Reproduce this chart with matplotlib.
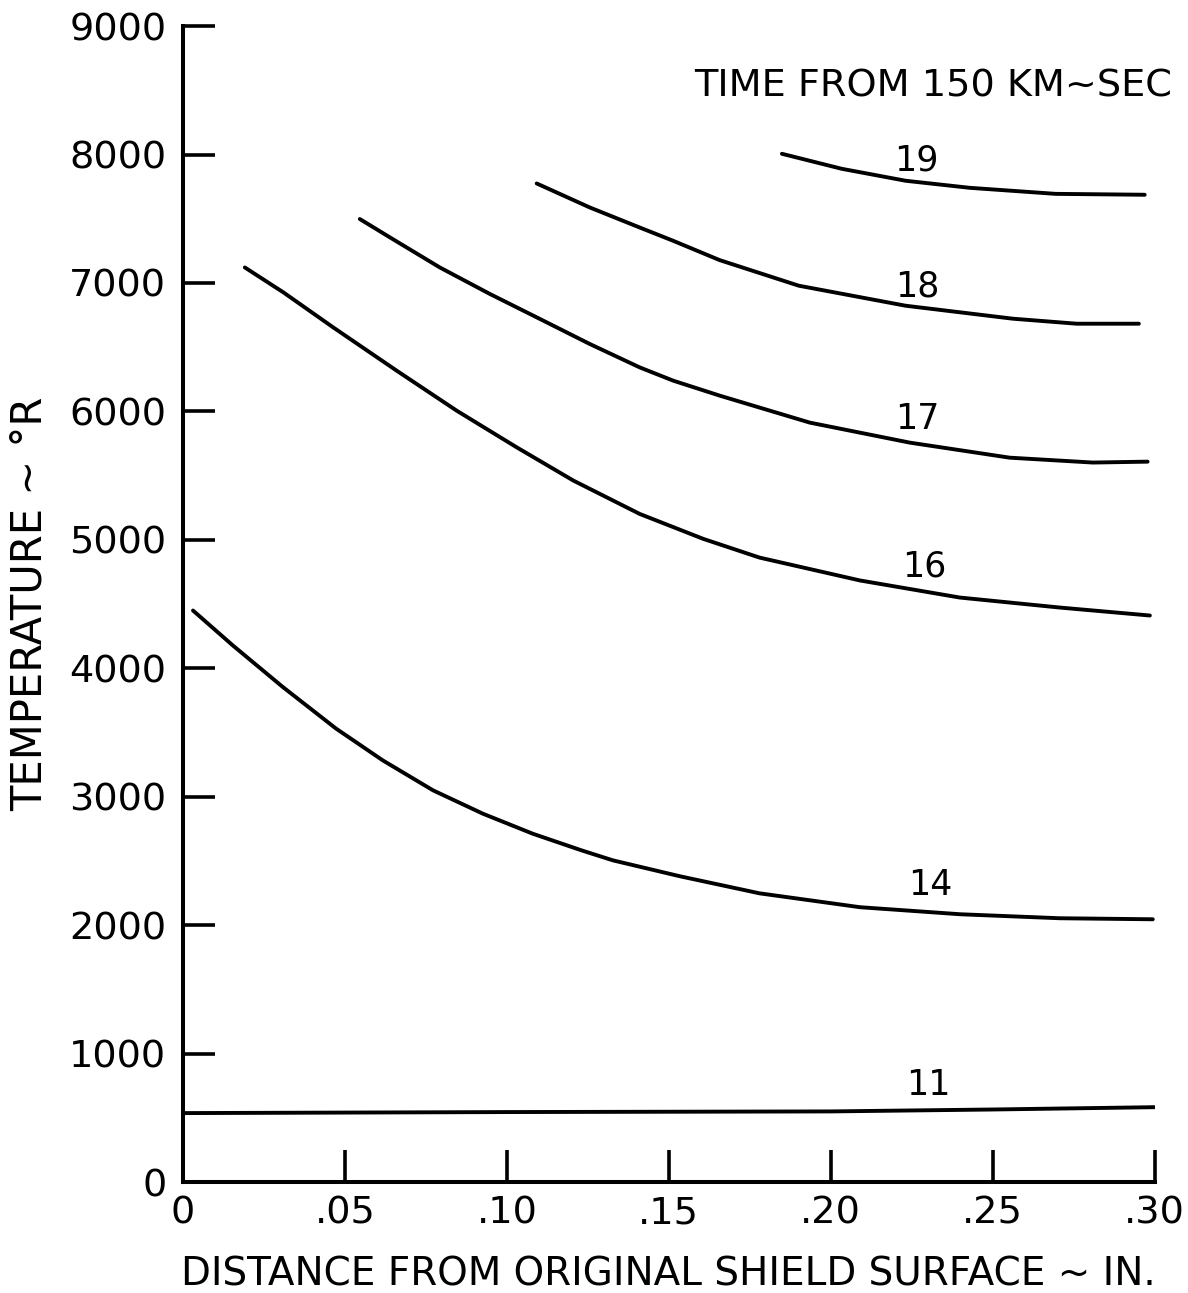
import numpy as np
import matplotlib.pyplot as plt

x11 = [0.0, 0.10, 0.20, 0.25, 0.30]
t11 = [537, 545, 550, 565, 583]

x14 = [0.0031, 0.0154, 0.0309, 0.0473, 0.0617, 0.0772, 0.0926, 0.108, 0.123,
       0.1327, 0.1534, 0.178, 0.209, 0.240, 0.2707, 0.2994]
t14 = [4450, 4178, 3853, 3530, 3283, 3050, 2868, 2712, 2583,
       2505, 2381, 2248, 2140, 2085, 2054, 2046]

x16 = [0.0191, 0.031, 0.0464, 0.066, 0.0845, 0.103, 0.1205, 0.141, 0.1606,
       0.178, 0.209, 0.2398, 0.2707, 0.2985]
t16 = [7121, 6927, 6654, 6317, 6006, 5721, 5462, 5202, 5008,
       4862, 4684, 4551, 4473, 4411]

x17 = [0.0546, 0.0639, 0.0793, 0.0948, 0.1102, 0.1256, 0.141, 0.1513, 0.1657,
       0.1935, 0.2244, 0.2552, 0.2809, 0.2978]
t17 = [7498, 7355, 7121, 6914, 6720, 6525, 6343, 6240, 6123,
       5913, 5757, 5640, 5602, 5609]

x18 = [0.1092, 0.1256, 0.141, 0.1513, 0.1657, 0.1901, 0.2231, 0.2562, 0.2759, 0.2951]
t18 = [7775, 7588, 7432, 7329, 7178, 6979, 6823, 6722, 6683, 6683]

x19 = [0.1849, 0.2034, 0.2231, 0.2429, 0.2694, 0.2969]
t19 = [8006, 7889, 7796, 7741, 7694, 7687]

labels = ['11', '14', '16', '17', '18', '19']
label_x = [0.230, 0.2306, 0.229, 0.2268, 0.2268, 0.2265]
label_t = [755, 2311, 4792, 5944, 6970, 7950]

xticks = [0, 0.05, 0.10, 0.15, 0.20, 0.25, 0.30]
xticklabels = ['0', '.05', '.10', '.15', '.20', '.25', '.30']
yticks = np.arange(0, 9001, 1000)

fig = plt.figure(figsize=(11.88, 12.93), dpi=100)
ax = fig.add_axes([0.154, 0.0858, 0.818, 0.894])

for xs, ts in [(x11, t11), (x14, t14), (x16, t16), (x17, t17), (x18, t18), (x19, t19)]:
    ax.plot(xs, ts, 'k-', linewidth=2.8, solid_capstyle='round', solid_joinstyle='round')

for lab, lx, lt in zip(labels, label_x, label_t):
    ax.text(lx, lt, lab, fontsize=25, ha='center', va='center')

ax.text(0.3055, 8530, 'TIME FROM 150 KM~SEC', fontsize=27.5, ha='right', va='center')

ax.set_xlim(0, 0.30)
ax.set_ylim(0, 9000)
ax.set_xticks(xticks)
ax.set_xticklabels(xticklabels)
ax.set_yticks(yticks)
ax.set_yticklabels([str(v) for v in yticks])

for s in ['top', 'right']:
    ax.spines[s].set_visible(False)
for s in ['left', 'bottom']:
    ax.spines[s].set_linewidth(2.9)

ax.tick_params(direction='in', length=23, width=2.6, labelsize=27.5)
ax.tick_params(axis='y', pad=12)
ax.tick_params(axis='x', pad=10)

ax.set_xlabel('DISTANCE FROM ORIGINAL SHIELD SURFACE ~ IN.', fontsize=28, labelpad=17)
ax.set_ylabel('TEMPERATURE ~ °R', fontsize=30, labelpad=13)

plt.savefig('out.png', dpi=100)
plt.close()
